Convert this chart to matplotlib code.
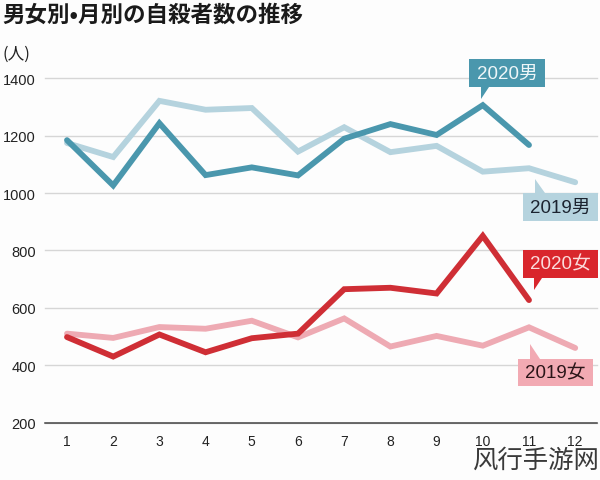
import matplotlib
matplotlib.use("Agg")
import matplotlib.pyplot as plt
from matplotlib.patches import Rectangle, Polygon

plt.rcParams['font.family'] = ['Noto Sans CJK JP', 'DejaVu Sans']

months = list(range(1, 13))
male_2019 = [1175, 1126, 1322, 1291, 1297, 1145, 1230, 1143, 1165, 1075, 1087, 1038]
male_2020 = [1185, 1027, 1244, 1063, 1090, 1062, 1190, 1241, 1203, 1307, 1168]
female_2019 = [510, 495, 533, 527, 555, 497, 563, 465, 502, 468, 532, 460]
female_2020 = [498, 430, 507, 445, 494, 510, 665, 670, 650, 851, 627]
y_ticks = [200, 400, 600, 800, 1000, 1200, 1400]

W, H = 600, 481
BG = '#fdfdfd'
fig = plt.figure(figsize=(W / 100, H / 100), dpi=100, facecolor=BG)
ax = fig.add_axes([45 / W, 1 - 423.5 / H, (597 - 45) / W, (423.5 - 79.5) / H], facecolor=BG)

for s in ['top', 'left', 'right']:
    ax.spines[s].set_visible(False)
ax.spines['bottom'].set_color('#444444')
ax.spines['bottom'].set_linewidth(1.1)

ax.set_ylim(200, 1400)
ax.set_xlim(1 - 22 / 46.2, 1 + 530 / 46.2)
ax.set_yticks(y_ticks)
ax.set_xticks(months)
ax.tick_params(axis='both', length=0, colors='#222222')
ax.tick_params(axis='y', labelsize=10.5, pad=6.5)
ax.tick_params(axis='x', labelsize=10, pad=8)
for lab in ax.get_yticklabels() + ax.get_xticklabels():
    lab.set_fontfamily(['Liberation Sans'])
ax.grid(axis='y', color='#d6d6d6', lw=1.0)
for gl in ax.get_ygridlines():
    gl.set_clip_on(False)
ax.set_axisbelow(True)

series = [
    (months, male_2019, '#b5d3de', 4.2),
    (months, female_2019, '#eeaab3', 4.2),
    (months[:11], male_2020, '#4a97ad', 4.2),
    (months[:11], female_2020, '#cf2e35', 4.2),
]
for x, y, c, lw in series:
    ax.plot(x, y, color=c, lw=lw, solid_joinstyle='miter', solid_capstyle='round', clip_on=False)


def tag(box, tip, color, text, text_color):
    x0, y0, x1, y1 = box
    fig.add_artist(Rectangle((x0 / W, 1 - y1 / H), (x1 - x0) / W, (y1 - y0) / H,
                             transform=fig.transFigure, fc=color, ec='none', zorder=5))
    fig.add_artist(Polygon([(px / W, 1 - py / H) for px, py in tip], closed=True,
                           transform=fig.transFigure, fc=color, ec='none', zorder=5))
    fig.text((x0 + x1) / 2 / W, 1 - (y0 + y1) / 2 / H, text, color=text_color, fontsize=13.5,
             ha='center', va='center', zorder=6, family=['Liberation Sans', 'Noto Sans CJK JP'])


tag((469, 60, 545, 88), [(481, 88), (489, 88), (481, 100)], '#4a97ad', '2020男', '#eef6f8')
tag((523, 194, 598, 222), [(535, 180), (535, 194), (545, 194)], '#b5d3de', '2019男', '#1c2430')
tag((523, 251, 598, 279), [(534, 279), (542, 279), (534, 291)], '#d9262c', '2020女', '#fbdcdc')
tag((518, 360, 593, 387), [(530, 345), (530, 360), (540, 360)], '#f2aab3', '2019女', '#2a1518')

fig.text(2 / W, 1 - 15 / H, '男女別•月別の自殺者数の推移', fontsize=16.2, fontweight='bold',
         color='#1a1a1a', ha='left', va='center',
         family=['Noto Sans CJK JP', 'DejaVu Sans'])
fig.text(2 / W, 1 - 54 / H, '(人)', fontsize=12, color='#222222', ha='left', va='center')
fig.text(600 / W, 1 - 461 / H, '风行手游网', fontsize=18.3, color='#3a3a3a', ha='right', va='center',
         family=['Noto Sans CJK SC'], fontweight='light', zorder=7)

fig.savefig('out.png', dpi=100, facecolor=BG)
